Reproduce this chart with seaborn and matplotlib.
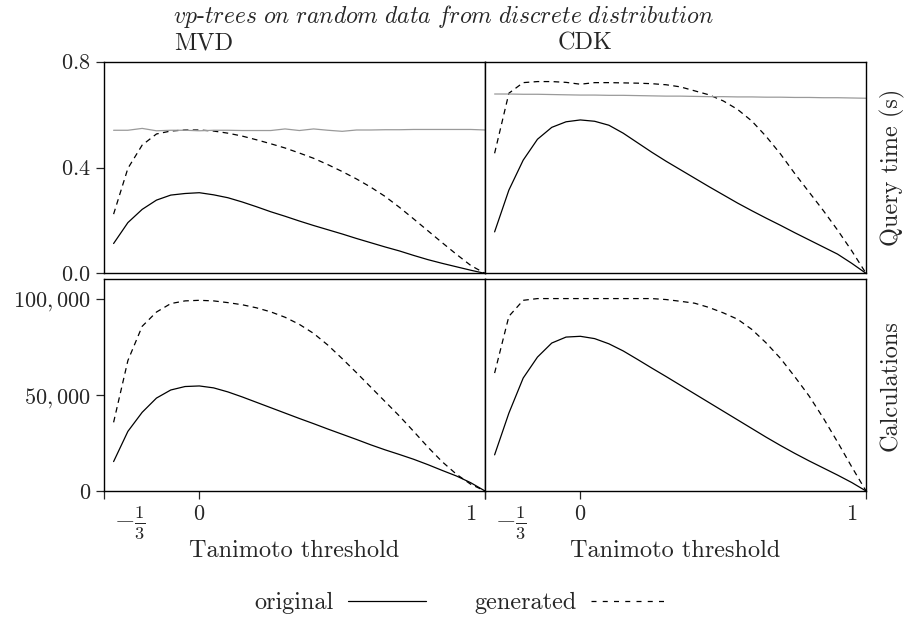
import numpy as np
import pandas as pd
import matplotlib
matplotlib.use("Agg")
import matplotlib.pyplot as plt
import matplotlib.transforms as mtransforms
from matplotlib.lines import Line2D
import seaborn as sns

# Tanimoto thresholds where the trees were queried
thresholds = [-0.30, -0.25, -0.20, -0.15, -0.10, -0.05, 0.00, 0.05, 0.10,
              0.15, 0.20, 0.25, 0.30, 0.35, 0.40, 0.45, 0.50, 0.55, 0.60,
              0.65, 0.70, 0.75, 0.80, 0.85, 0.90, 0.95, 1.00]

# query time (s)
mvd_time_orig = [0.113, 0.192, 0.242, 0.277, 0.296, 0.302, 0.305, 0.297, 0.286,
                 0.270, 0.252, 0.233, 0.216, 0.198, 0.181, 0.165, 0.149, 0.132,
                 0.116, 0.100, 0.085, 0.068, 0.052, 0.038, 0.025, 0.012, 0.000]
mvd_time_gen = [0.224, 0.397, 0.485, 0.527, 0.538, 0.542, 0.542, 0.538, 0.530,
                0.519, 0.505, 0.490, 0.474, 0.455, 0.435, 0.411, 0.385, 0.357,
                0.326, 0.291, 0.250, 0.206, 0.161, 0.116, 0.072, 0.030, 0.000]
mvd_time_scan = [0.541, 0.541, 0.548, 0.539, 0.541, 0.541, 0.539, 0.541, 0.541,
                 0.540, 0.540, 0.540, 0.546, 0.540, 0.546, 0.541, 0.537, 0.542,
                 0.542, 0.543, 0.543, 0.544, 0.544, 0.544, 0.544, 0.544, 0.542]
cdk_time_orig = [0.157, 0.315, 0.428, 0.507, 0.552, 0.573, 0.580, 0.575, 0.560,
                 0.530, 0.494, 0.458, 0.424, 0.392, 0.360, 0.328, 0.297, 0.266,
                 0.237, 0.209, 0.182, 0.154, 0.127, 0.100, 0.073, 0.038, 0.000]
cdk_time_gen = [0.454, 0.681, 0.721, 0.725, 0.725, 0.722, 0.715, 0.721, 0.721,
                0.720, 0.719, 0.717, 0.713, 0.705, 0.690, 0.675, 0.652, 0.620,
                0.576, 0.518, 0.452, 0.378, 0.308, 0.238, 0.164, 0.085, 0.000]
cdk_time_scan = [0.678, 0.678, 0.677, 0.677, 0.676, 0.675, 0.674, 0.674, 0.673,
                 0.673, 0.672, 0.671, 0.670, 0.670, 0.669, 0.668, 0.668, 0.667,
                 0.667, 0.666, 0.666, 0.665, 0.665, 0.664, 0.664, 0.663, 0.662]

# distance calculations
mvd_calc_orig = [15300, 31000, 40900, 48300, 52500, 54300, 54600, 53600, 51500,
                 48900, 46100, 43300, 40500, 37700, 35000, 32200, 29500, 26800,
                 24000, 21400, 19000, 16500, 13700, 10700, 7800, 4300, 0]
mvd_calc_gen = [35700, 67800, 85600, 93000, 97400, 98800, 99100, 98800, 97900,
                96800, 95200, 93100, 90300, 86600, 81900, 75800, 68800, 61500,
                54000, 46500, 39000, 31000, 22800, 15200, 8700, 3500, 0]
cdk_calc_orig = [18800, 40500, 58700, 69600, 76900, 80000, 80400, 79200, 76500,
                 72800, 68400, 63900, 59500, 55000, 50500, 46000, 41500, 37000,
                 32500, 28000, 23700, 19600, 15700, 12000, 8300, 4400, 0]
cdk_calc_gen = [61300, 90800, 99100, 100000, 100000, 100000, 100000, 100000, 100000,
                100000, 100000, 100000, 99500, 98600, 97600, 95400, 92600, 89300,
                84000, 77000, 69000, 59500, 49500, 38000, 25500, 12500, 0]

frames = []
for impl, metric, series, vals in [
    ("MVD", "time", "original", mvd_time_orig),
    ("MVD", "time", "generated", mvd_time_gen),
    ("MVD", "time", "scan", mvd_time_scan),
    ("CDK", "time", "original", cdk_time_orig),
    ("CDK", "time", "generated", cdk_time_gen),
    ("CDK", "time", "scan", cdk_time_scan),
    ("MVD", "calc", "original", mvd_calc_orig),
    ("MVD", "calc", "generated", mvd_calc_gen),
    ("CDK", "calc", "original", cdk_calc_orig),
    ("CDK", "calc", "generated", cdk_calc_gen),
]:
    frames.append(pd.DataFrame({"threshold": thresholds, "value": vals,
                                "impl": impl, "metric": metric, "series": series}))
df = pd.concat(frames, ignore_index=True)

sns.set_style("white")
plt.rcParams["font.family"] = ["cmr10", "DejaVu Serif"]
plt.rcParams["mathtext.fontset"] = "cm"
plt.rcParams["axes.formatter.use_mathtext"] = True
plt.rcParams["axes.unicode_minus"] = False

FS = 17.5
palette = {"original": "black", "generated": "black", "scan": "#9a9a9a"}
dashes = {"original": "", "generated": (4.5, 3.5), "scan": ""}

fig, axes = plt.subplots(2, 2, figsize=(9.05, 6.21), dpi=100, sharex=True)
fig.subplots_adjust(left=0.115, right=0.957, top=0.9006, bottom=0.2093,
                    wspace=0, hspace=0.028)

for col, impl in enumerate(["MVD", "CDK"]):
    for row, metric in enumerate(["time", "calc"]):
        ax = axes[row, col]
        sub = df[(df["impl"] == impl) & (df["metric"] == metric)]
        sns.lineplot(data=sub, x="threshold", y="value", hue="series",
                     style="series", palette=palette, dashes=dashes,
                     estimator=None, linewidth=0.9, legend=False, ax=ax)
        ax.set_xlim(-1 / 3, 1)
        ax.set_xlabel("")
        ax.set_ylabel("")
        for s in ax.spines.values():
            s.set_visible(True)
            s.set_linewidth(1.0)
            s.set_color("black")
        if metric == "time":
            ax.set_ylim(0, 0.8)
            ax.set_yticks([0, 0.4, 0.8])
            ax.set_yticklabels(["$0.0$", "$0.4$", "$0.8$"])
        else:
            ax.set_ylim(0, 110000)
            ax.set_yticks([0, 50000, 100000])
            ax.set_yticklabels(["$0$", "$50,000$", "$100,000$"])
        ax.tick_params(axis="y", direction="out", length=6, width=0.9,
                       labelsize=16, left=(col == 0), labelleft=(col == 0))
        ax.tick_params(axis="x", direction="out", length=6, width=0.9,
                       labelsize=16, bottom=(row == 1), labelbottom=(row == 1))

    axes[0, col].text(0.262, 1.06, impl, transform=axes[0, col].transAxes,
                      ha="center", va="baseline", fontsize=FS)
    axes[1, col].set_xticks([-1 / 3, 0, 1])
    axes[1, col].set_xticklabels([r"$-\frac{1}{3}$", "$0$", "$1$"])
    axes[1, col].set_xlabel("Tanimoto threshold", fontsize=FS, labelpad=-1)
    labs = axes[1, col].get_xticklabels()
    labs[0].set_fontsize(19)
    for lab, dx in zip(labs, [0.26, 0.0, -0.14]):
        lab.set_transform(lab.get_transform() +
                          mtransforms.ScaledTranslation(dx, 0, fig.dpi_scale_trans))

for row, name in enumerate(["Query time (s)", "Calculations"]):
    ax = axes[row, 1]
    ax.yaxis.set_label_position("right")
    ax.set_ylabel(name, fontsize=FS, labelpad=10)

fig.text(0.49, 1 - 16 / 621,
         r"$\mathit{vp}$-$\mathit{trees\ on\ random\ data\ from\ discrete\ distribution}$",
         ha="center", va="center", fontsize=17)

handles = [Line2D([], [], color="black", lw=0.9),
           Line2D([], [], color="black", lw=0.9, dashes=(4, 5))]
fig.legend(handles, ["original", "generated"], loc="center",
           bbox_to_anchor=(0.51, 1 - 603 / 621), ncol=2, frameon=False,
           markerfirst=False, handlelength=3.2, handletextpad=0.6,
           columnspacing=2.0, fontsize=FS)

fig.savefig("out.png", dpi=100)
